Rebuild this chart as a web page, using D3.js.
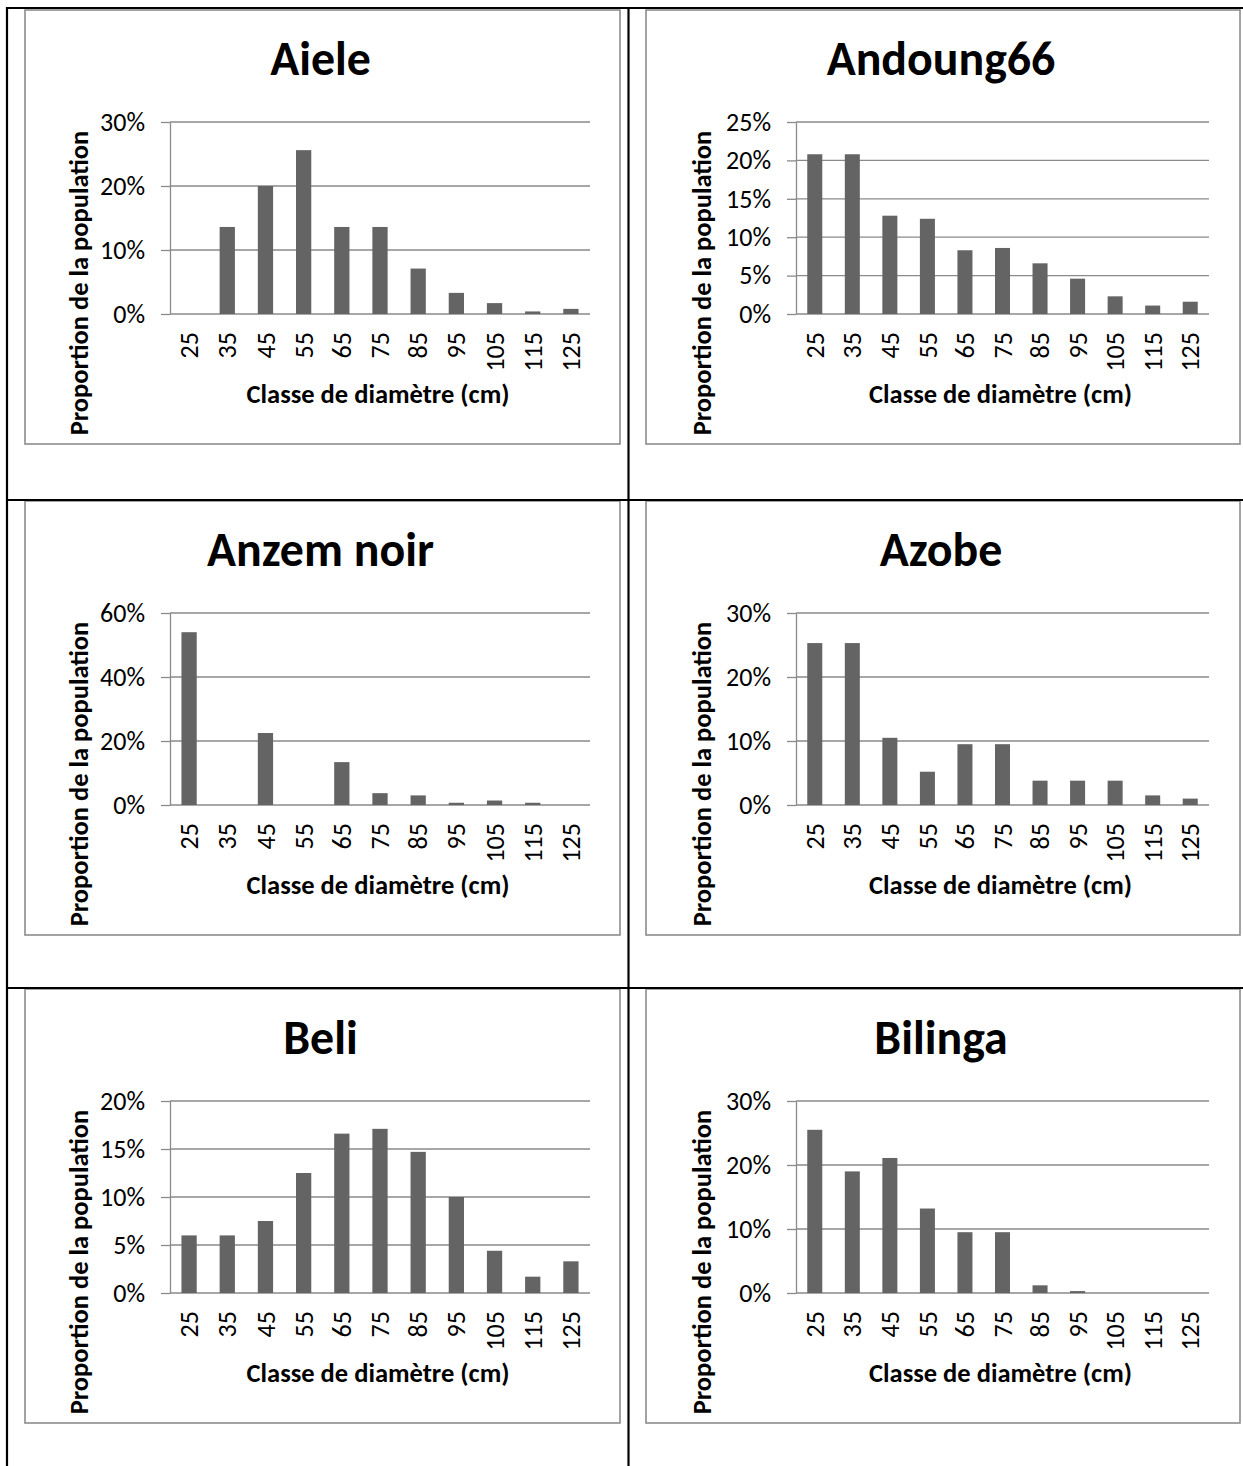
<!DOCTYPE html>
<html>
<head>
<meta charset="utf-8">
<script src="https://cdn.jsdelivr.net/npm/d3@7"></script>
<style>
  body { margin: 0; background: #fff; }
  svg { display: block; }
  .chart text { font-family: Carlito, Calibri, Lato, sans-serif; fill: #000; }
</style>
</head>
<body>
<div id="page"></div>
<script>
// Diameter classes (cm)
const categories = ["25", "35", "45", "55", "65", "75", "85", "95", "105", "115", "125"];

// Chart titles
const species = ["Aiele", "Andoung66", "Anzem noir", "Azobe", "Beli", "Bilinga"];

// Proportion of population (%) per diameter class
const aiele     = [0, 13.6, 20.0, 25.6, 13.6, 13.6, 7.1, 3.3, 1.7, 0.4, 0.8];
const andoung66 = [20.8, 20.8, 12.8, 12.4, 8.3, 8.6, 6.6, 4.6, 2.3, 1.1, 1.6];
const anzemNoir = [54.0, 0, 22.5, 0, 13.4, 3.7, 3.0, 0.7, 1.4, 0.7, 0];
const azobe     = [25.3, 25.3, 10.5, 5.2, 9.5, 9.5, 3.8, 3.8, 3.8, 1.5, 1.0];
const beli      = [6.0, 6.0, 7.5, 12.5, 16.6, 17.1, 14.7, 10.0, 4.4, 1.7, 3.3];
const bilinga   = [25.5, 19.0, 21.1, 13.2, 9.5, 9.5, 1.2, 0.3, 0, 0, 0];
const seriesValues = [aiele, andoung66, anzemNoir, azobe, beli, bilinga];

// Y axis tick labels (%) per chart
const yTicks = [
    [0, 10, 20, 30],
    [0, 5, 10, 15, 20, 25],
    [0, 20, 40, 60],
    [0, 10, 20, 30],
    [0, 5, 10, 15, 20],
    [0, 10, 20, 30]
];

const xTitle = "Classe de diamètre (cm)";
const yTitle = "Proportion de la population";

// Page layout
const W = 1243, H = 1466;
const tableX = [7, 628.5];
const tableRowY = [8, 500, 988];

const frameX = [25, 646], frameW = [595, 594];
const frameY = [10, 501, 989], frameH = 434;
const plotLeft = [145, 150], plotRight = [565, 563];
const plotTop = 112, plotH = 192;

const barColor = "#646464";
const gridColor = "#8a8a8a";

const svg = d3.select("#page").append("svg")
    .attr("class", "chart")
    .attr("width", W)
    .attr("height", H);

// Font calibration so substitute fonts take the same width as the original
function fitSize(str, weight, target) {
    let t = svg.append("text")
        .attr("font-size", 100)
        .attr("font-weight", weight)
        .text(str);
    let w = t.node().getComputedTextLength();
    t.remove();
    return 100 * target / w;
}
const titleSize = fitSize("Anzem noir", "bold", 227);
const axisTitleSize = fitSize(xTitle, "bold", 263);
const tickSize = fitSize("30%", "normal", 45);

species.forEach((name, i) => {
    let col = i % 2, row = Math.floor(i / 2);
    let fx = frameX[col], fy = frameY[row], fw = frameW[col];
    let values = seriesValues[i];
    let ticks = yTicks[i];

    let g = svg.append("g").attr("transform", `translate(${fx}, ${fy})`);

    // Chart frame
    g.append("rect")
        .attr("x", 0).attr("y", 0)
        .attr("width", fw).attr("height", frameH)
        .attr("fill", "#fff")
        .attr("stroke", "#8c8c8c")
        .attr("stroke-width", 1.6);

    // Title
    g.append("text")
        .attr("x", fw / 2 - 2)
        .attr("y", 65)
        .attr("text-anchor", "middle")
        .attr("font-size", titleSize)
        .attr("font-weight", "bold")
        .text(name);

    let pw = plotRight[col] - plotLeft[col];
    let plot = g.append("g").attr("transform", `translate(${plotLeft[col]}, ${plotTop})`);

    let x = d3.scaleBand()
        .domain(categories)
        .range([0, pw])
        .paddingInner(0.6)
        .paddingOuter(0.3);

    let y = d3.scaleLinear()
        .domain([0, d3.max(ticks)])
        .range([plotH, 0]);

    // Gridlines
    plot.selectAll(".grid")
        .data(ticks)
        .enter().append("line")
        .attr("class", "grid")
        .attr("x1", 0).attr("x2", pw)
        .attr("y1", d => y(d)).attr("y2", d => y(d))
        .attr("stroke", gridColor)
        .attr("stroke-width", 1.3);

    // Y axis
    let yAxis = plot.append("g")
        .call(d3.axisLeft(y).tickValues(ticks).tickFormat(d => d + "%")
            .tickSize(9).tickSizeOuter(0).tickPadding(16));
    yAxis.select(".domain").attr("stroke", gridColor).attr("stroke-width", 1.3);
    yAxis.selectAll(".tick line").attr("stroke", gridColor).attr("stroke-width", 1.3);
    yAxis.selectAll(".tick text")
        .attr("font-size", tickSize)
        .attr("font-family", "Carlito, Calibri, Lato, sans-serif")
        .attr("fill", "#000");

    // Bars
    plot.selectAll(".bar")
        .data(values)
        .enter().append("rect")
        .attr("class", "bar")
        .attr("x", (d, j) => x(categories[j]))
        .attr("y", d => y(d))
        .attr("width", x.bandwidth())
        .attr("height", d => plotH - y(d))
        .attr("fill", barColor);

    // X axis (rotated labels)
    let xAxis = plot.append("g")
        .attr("transform", `translate(0, ${plotH})`)
        .call(d3.axisBottom(x).tickSize(0).tickSizeOuter(0));
    xAxis.select(".domain").remove();
    xAxis.selectAll(".tick text")
        .attr("transform", "rotate(-90)")
        .attr("text-anchor", "end")
        .attr("x", -18)
        .attr("y", 0)
        .attr("dy", "0.35em")
        .attr("font-size", tickSize)
        .attr("font-family", "Carlito, Calibri, Lato, sans-serif")
        .attr("fill", "#000");

    // Axis titles
    g.append("text")
        .attr("x", plotLeft[col] + pw / 2 - 2)
        .attr("y", plotTop + plotH + 89)
        .attr("text-anchor", "middle")
        .attr("font-size", axisTitleSize)
        .attr("font-weight", "bold")
        .text(xTitle);

    g.append("text")
        .attr("transform", `translate(${63 + (col ? 2 : 0)}, 273) rotate(-90)`)
        .attr("text-anchor", "middle")
        .attr("font-size", axisTitleSize)
        .attr("font-weight", "bold")
        .text(yTitle);
});

// Table borders
let table = svg.append("g")
    .attr("stroke", "#000")
    .attr("stroke-width", 2.2);

tableRowY.forEach(ty => {
    table.append("line")
        .attr("x1", tableX[0] - 1).attr("x2", W)
        .attr("y1", ty).attr("y2", ty);
});
tableX.forEach(tx => {
    table.append("line")
        .attr("x1", tx).attr("x2", tx)
        .attr("y1", tableRowY[0] - 1).attr("y2", H);
});
</script>
</body>
</html>
